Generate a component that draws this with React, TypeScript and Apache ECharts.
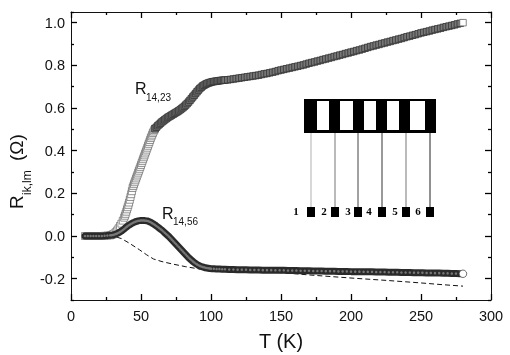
import React, { useEffect, useRef } from "react";
import * as echarts from "echarts";

const tLadder = [10,12,14,16,18,20,22,24,26,28,29,30,31,32,33,34,35,36,37,38,38.5,39,39.5,40,40.5,41,41.5,42,42.5,43,43.5,44,44.5,45,45.5,46,46.5,47,47.5,48,48.5,49,49.5,50,50.5,51,51.5,52,52.5,53,53.5,54,54.5,55,55.5,56,56.5,57,57.5,58,58.5,59,59.5,60];
const rLadder = [0,0,0,0,0,0,0,0.001,0.002,0.003,0.005,0.008,0.012,0.018,0.026,0.036,0.047,0.058,0.072,0.086,0.095,0.104,0.114,0.125,0.135,0.146,0.157,0.17,0.183,0.196,0.21,0.225,0.234,0.243,0.252,0.261,0.27,0.279,0.288,0.297,0.306,0.315,0.324,0.333,0.342,0.351,0.36,0.369,0.378,0.387,0.396,0.405,0.414,0.423,0.432,0.441,0.45,0.459,0.467,0.475,0.483,0.49,0.497,0.503];

const tDense = [60,61,62,63,64,65,66,67,68,69,70,71,72,73,74,75,76,77,78,79,80,81,82,83,84,85,86,87,88,89,90,91,92,93,94,95,96,97,98,99,100,101,102,103,104,105,106,107,108,109,110,112,114,116,118,120,122,124,126,128,130,132,134,136,138,140,142,144,146,148,150,152,154,156,158,160,162,164,166,168,170,172,174,176,178,180,182,184,186,188,190,192,194,196,198,200,202,204,206,208,210,212,214,216,218,220,222,224,226,228,230,232,234,236,238,240,242,244,246,248,250,252,254,256,258,260,262,264,266,268,270,272,274,276,278,280];
const rDense = [0.503,0.51,0.517,0.523,0.529,0.535,0.54,0.545,0.55,0.555,
  0.559,0.563,0.567,0.571,0.575,0.579,0.583,0.587,0.592,0.597,
  0.602,0.608,0.614,0.621,0.628,0.636,0.644,0.652,0.66,0.668,
  0.676,0.684,0.691,0.697,0.703,0.707,0.711,0.714,0.717,0.719,
  0.721,0.723,0.724,0.725,0.726,0.727,0.728,0.729,0.73,0.73,0.731,
  0.732,0.734,0.736,0.738,0.74,0.742,0.744,0.746,0.748,0.75,
  0.752,0.754,0.757,0.76,0.762,0.765,0.768,0.771,0.775,0.778,
  0.781,0.784,0.787,0.79,0.793,0.796,0.799,0.802,0.806,0.81,
  0.813,0.816,0.82,0.823,0.827,0.83,0.834,0.837,0.841,0.844,
  0.848,0.851,0.855,0.858,0.862,0.865,0.869,0.872,0.876,0.88,
  0.884,0.888,0.891,0.895,0.898,0.902,0.905,0.909,0.912,0.916,
  0.919,0.923,0.926,0.93,0.934,0.937,0.941,0.944,0.948,0.952,
  0.955,0.958,0.961,0.965,0.968,0.971,0.974,0.978,0.981,0.984,
  0.987,0.99,0.994,0.997,1.0];

const tLower = [10,12,14,16,18,20,22,24,26,28,29,30,31,32,33,34,35,36,37,38,39,40,41,42,43,44,45,46,47,48,49,50,51,52,53,54,55,56,57,58,59,60,61,62,63,64,65,66,67,68,69,70,71,72,73,74,75,76,77,78,79,80,81,82,83,84,85,86,87,88,89,90,91,92,93,94,95,96,97,98,99,100,102,104,106,108,110,113,116,119,122,125,128,131,134,137,140,143,146,149,152,155,158,161,164,167,170,173,176,179,182,185,188,191,194,197,200,203,206,209,212,215,218,221,224,227,230,233,236,239,242,245,248,251,254,257,260,263,266,269,272,275,278,280];
const rLower = [0,0,0,0,0,0,0,0.001,0.002,0.003,
  0.004,0.005,0.007,0.009,0.012,0.015,0.019,0.023,0.028,0.033,
  0.039,0.044,0.049,0.053,0.057,0.061,0.064,0.067,0.069,0.071,
  0.072,0.073,0.073,0.073,0.072,0.071,0.07,0.067,0.064,0.06,
  0.056,0.052,0.047,0.042,0.037,0.032,0.027,0.021,0.015,0.009,
  0.003,-0.003,-0.01,-0.017,-0.024,-0.031,-0.038,-0.045,-0.052,-0.059,
  -0.066,-0.073,-0.08,-0.087,-0.094,-0.101,-0.107,-0.113,-0.119,-0.124,
  -0.129,-0.133,-0.137,-0.14,-0.143,-0.145,-0.147,-0.149,-0.15,-0.151,
  -0.152,-0.153,
  -0.154,-0.155,-0.155,-0.156,-0.156,
  -0.157,-0.157,-0.158,-0.158,-0.158,-0.159,-0.159,-0.159,-0.16,-0.16,
  -0.16,-0.161,-0.161,-0.161,-0.162,-0.162,-0.162,-0.163,-0.163,-0.163,
  -0.164,-0.164,-0.164,-0.165,-0.165,-0.165,-0.166,-0.166,-0.166,-0.167,
  -0.167,-0.167,-0.168,-0.168,-0.168,-0.169,-0.169,-0.169,-0.17,-0.17,
  -0.17,-0.171,-0.171,-0.171,-0.172,-0.172,-0.172,-0.173,-0.173,-0.174,
  -0.174,-0.175,-0.175,-0.176,-0.176,-0.177,
  -0.177];

const tDash = [10,20,28,32,36,42,49,54,59,65,73,82,92,105,120,135,150,175,200,225,250,265,280];
const rDash = [0,0,0,-0.004,-0.012,-0.035,-0.065,-0.088,-0.108,-0.12,-0.132,-0.144,-0.155,-0.16,-0.165,-0.168,-0.172,-0.185,-0.197,-0.208,-0.22,-0.228,-0.235];

const xTicks = [0, 50, 100, 150, 200, 250, 300];
const contactLabels = ["1", "2", "3", "4", "5", "6"];
const label1 = ["R", "14,23"];
const label2 = ["R", "14,56"];
const yTitle = ["R", "ik,lm", "(Ω)"];

const font = "'Liberation Sans', Arial, sans-serif";
const ink = "#111";
const zip = (a: number[], b: number[]) => a.map((v, i) => [v, b[i]]);

const windowX = [[317, 12], [340, 13], [364, 12], [387, 12], [410, 15]];
const leadX = [311, 335, 358, 382, 406, 430];
const leadColor = ["#b0b0b0", "#777", "#444", "#333", "#777", "#222"];
const labelX = [296, 324, 348, 369, 395, 418];

function inset(): any[] {
  const els: any[] = [
    { type: "rect", shape: { x: 304, y: 99, width: 132, height: 34 }, style: { fill: "#000" } },
  ];
  windowX.forEach(([x, w]) =>
    els.push({ type: "rect", shape: { x, y: 101, width: w, height: 29 }, style: { fill: "#fff" } })
  );
  leadX.forEach((x, i) => {
    els.push({ type: "line", shape: { x1: x, y1: 133, x2: x, y2: 207 }, style: { stroke: leadColor[i], lineWidth: 1 } });
    els.push({ type: "rect", shape: { x: x - 4, y: 207, width: 8, height: 10 }, style: { fill: "#000" } });
    els.push({
      type: "text", x: labelX[i], y: 211,
      style: { text: contactLabels[i], fill: "#000", font: "bold 11px 'Liberation Serif', serif", textAlign: "center", textVerticalAlign: "middle" },
    });
  });
  const lab = (x: number, y: number, dy: number, t: string[]) => [
    { type: "text", x, y, style: { text: t[0], fill: ink, font: `16px ${font}`, textVerticalAlign: "middle" } },
    { type: "text", x: x + 11, y: y + dy, style: { text: t[1], fill: ink, font: `10px ${font}`, textVerticalAlign: "middle" } },
  ];
  els.push(...lab(135, 88, 9, label1), ...lab(162, 213, 8, label2));
  const rot = (x: number, y: number, size: number, text: string) => ({
    type: "text", x, y, rotation: Math.PI / 2,
    style: { text, fill: ink, font: `${size}px ${font}`, textAlign: "left", textVerticalAlign: "bottom" },
  });
  els.push(rot(26, 209, 19, yTitle[0]), rot(33, 195, 12, yTitle[1]), rot(26, 161, 19, yTitle[2]));
  return els;
}

const axisLine = { show: true, onZero: false, lineStyle: { color: ink, width: 1 } };
const tickStyle = { color: "#000", width: 1.3 };
const axisTick = { show: true, inside: true, length: 6, lineStyle: tickStyle };
const minorTick = { show: true, splitNumber: 2, length: 3, lineStyle: tickStyle };
const gridBox = { left: 71, right: 19, top: 12, bottom: 55, outerBoundsMode: "none" };
// Same horizontal span; vertically from y = 1.0 to y = -0.2 of the main box, so major y ticks fall on multiples of 0.2.
const gridMajor = { left: 71, right: 19, top: 22.67, bottom: 76.33, outerBoundsMode: "none" };

export default function App() {
  const ref = useRef<HTMLDivElement>(null);
  useEffect(() => {
    const chart = echarts.init(ref.current!, undefined, { renderer: "svg" });
    const xBase = { type: "value", min: xTicks[0], max: xTicks[xTicks.length - 1], interval: 50, splitLine: { show: false }, axisLine, axisTick, minorTick };
    const hiddenX = (gridIndex: number) => ({ ...xBase, gridIndex, show: false });
    const yMain = { type: "value", min: -0.3, max: 1.05, splitLine: { show: false }, axisLine, axisTick: { show: false }, axisLabel: { show: false } };
    const yMinor = { type: "value", gridIndex: 1, min: -0.3, max: 1.05, interval: 0.2, splitLine: { show: false }, axisLine: { show: false }, axisLabel: { show: false }, axisTick: { ...axisTick, length: 3 } };
    const yMajor = { type: "value", gridIndex: 2, min: -0.2, max: 1.0, interval: 0.2, splitLine: { show: false }, axisLine: { show: false }, axisTick };
    const endPoint = (pts: number[][], last: any) =>
      pts.map((p, i) => (i === pts.length - 1 ? { value: p, ...last } : p));
    chart.setOption({
      animation: false,
      grid: [gridBox, gridBox, gridMajor],
      xAxis: [
        { ...xBase, position: "bottom", name: "T (K)", nameLocation: "middle", nameGap: 31,
          nameTextStyle: { fontFamily: font, fontSize: 20, color: ink },
          axisLabel: { fontFamily: font, fontSize: 14.5, color: ink, margin: 8 } },
        { ...xBase, position: "top", axisLabel: { show: false } },
        hiddenX(1),
        hiddenX(2),
      ],
      yAxis: [
        { ...yMain, position: "left" },
        { ...yMain, position: "right" },
        { ...yMinor, position: "left" },
        { ...yMinor, position: "right" },
        { ...yMajor, position: "left", axisLabel: { fontFamily: font, fontSize: 14.5, color: ink, margin: 6, formatter: (v: number) => v.toFixed(1) } },
        { ...yMajor, position: "right", axisLabel: { show: false } },
      ],
      graphic: inset(),
      series: [
        { type: "line", z: 2, data: zip(tDash, rDash), showSymbol: false, symbol: "none", lineStyle: { color: "#111", width: 1, type: [5, 3] } },
        { type: "line", z: 3, data: zip(tLadder, rLadder), symbol: "rect", symbolSize: 7, showAllSymbols: true, showSymbol: true,
          lineStyle: { width: 0 }, itemStyle: { color: "#fff", borderColor: "#666", borderWidth: 0.7 } },
        { type: "line", z: 4, data: endPoint(zip(tDense, rDense), { itemStyle: { color: "#fff", borderColor: "#666" } }),
          symbol: "rect", symbolSize: 6.5, showAllSymbols: true, showSymbol: true,
          lineStyle: { width: 6, color: "#222" }, itemStyle: { color: "#777", borderColor: "#333", borderWidth: 0.8 } },
        { type: "line", z: 5, data: endPoint(zip(tLower, rLower), { symbolSize: 7.5, itemStyle: { color: "#fff", borderColor: "#555", borderWidth: 0.8 } }),
          symbol: "circle", symbolSize: 2.5, showAllSymbols: true, showSymbol: true,
          lineStyle: { width: 7, color: "#2a2a2a", cap: "round" }, itemStyle: { color: "#777", borderWidth: 0 } },
      ],
    });
    return () => chart.dispose();
  }, []);
  return <div ref={ref} style={{ position: "fixed", left: 0, top: 0, width: 510, height: 355 }} />;
}
